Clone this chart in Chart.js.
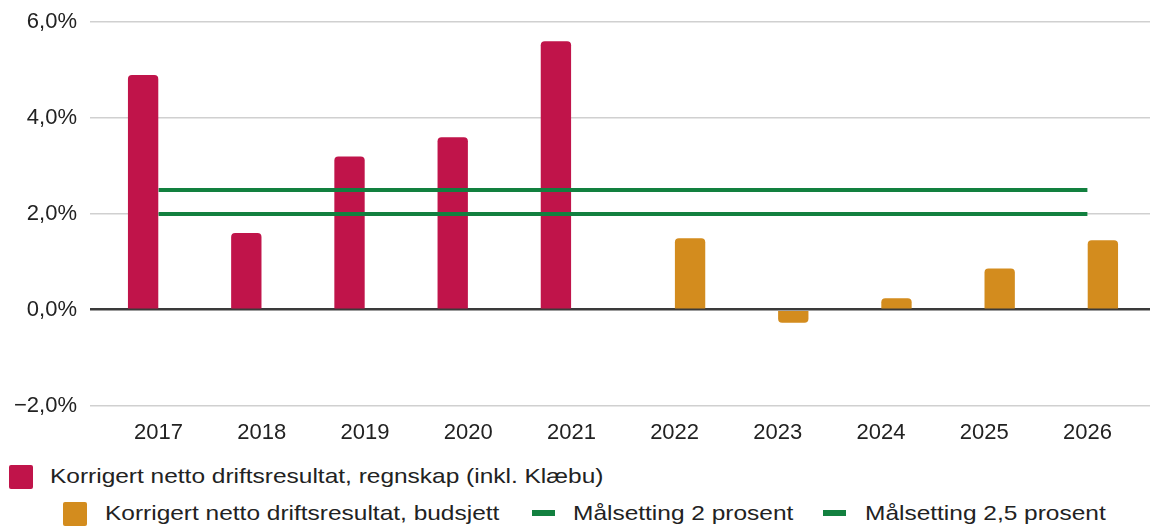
<!DOCTYPE html>
<html>
<head>
<meta charset="utf-8">
<script src="https://cdn.jsdelivr.net/npm/chart.js@4"></script>
<style>
  html, body { margin: 0; padding: 0; background: #fff; }
  body { position: relative; width: 1150px; height: 526px; overflow: hidden; font-family: "Liberation Sans", Arial, sans-serif; }
  #wrap { position: absolute; left: 0; top: -4px; width: 1150px; height: 456px; }
  .mark { position: absolute; }
  .box { width: 24px; height: 24px; border-radius: 2px; }
  .dash { width: 23px; height: 6px; }
  .txt { position: absolute; font-size: 21px; line-height: 24px; color: #222; white-space: nowrap;
         transform: scaleX(1.165); transform-origin: 0 0; }
</style>
</head>
<body>
<div id="wrap"><canvas id="chart"></canvas></div>
<div id="legend"></div>
<script>
// categories and values (percent)
const years = ["2017", "2018", "2019", "2020", "2021", "2022", "2023", "2024", "2025", "2026"];
const regnskap = [4.9, 1.6, 3.2, 3.6, 5.6, null, null, null, null, null];
const budsjett = [null, null, null, null, null, 1.49, -0.27, 0.24, 0.86, 1.45];
const maal2 = [2, 2, 2, 2, 2, 2, 2, 2, 2, 2];
const maal25 = [2.5, 2.5, 2.5, 2.5, 2.5, 2.5, 2.5, 2.5, 2.5, 2.5];
const yTicks = [-2, 0, 2, 4, 6];

const seriesNames = [
  "Korrigert netto driftsresultat, regnskap (inkl. Klæbu)",
  "Korrigert netto driftsresultat, budsjett",
  "Målsetting 2 prosent",
  "Målsetting 2,5 prosent",
];

const RED = "#c0144a";
const ORANGE = "#d38c1e";
const GREEN = "#12803f";

function fmtPct(v) {
  const s = Math.abs(v).toFixed(1).replace(".", ",") + "%";
  return v < 0 ? "\u2212" + s : s;
}

const gridColor = (c) => (c.tick && c.tick.value === 0 ? "#3a3a3a" : "#d0d0d0");
const gridWidth = (c) => (c.tick && c.tick.value === 0 ? 2.5 : 1.5);

const tickFont = { family: "'Liberation Sans', Arial, sans-serif", size: 22 };

new Chart(document.getElementById("chart"), {
  data: {
    labels: years,
    datasets: [
      { type: "line", label: seriesNames[3], data: maal25, borderColor: GREEN, borderWidth: 4, pointRadius: 0, order: 0 },
      { type: "line", label: seriesNames[2], data: maal2, borderColor: GREEN, borderWidth: 4, pointRadius: 0, order: 0 },
      {
        type: "bar", label: seriesNames[0], data: regnskap, backgroundColor: RED,
        borderRadius: 4, borderSkipped: "start", categoryPercentage: 0.6, barPercentage: 0.98, order: 1,
      },
      {
        type: "bar", label: seriesNames[1], data: budsjett, backgroundColor: ORANGE,
        borderRadius: 4, borderSkipped: "start", categoryPercentage: 0.6, barPercentage: 0.98, order: 1,
      },
    ],
  },
  options: {
    responsive: true,
    maintainAspectRatio: false,
    animation: false,
    layout: { padding: { top: 4, left: 1, right: 0, bottom: 0 } },
    plugins: { legend: { display: false }, tooltip: { enabled: false } },
    scales: {
      x: {
        grid: { display: false },
        border: { display: false },
        ticks: { color: "#222", font: tickFont, padding: 6, maxRotation: 0 },
      },
      y: {
        position: "left",
        min: yTicks[0],
        max: yTicks[yTicks.length - 1],
        afterBuildTicks: (s) => { s.ticks = yTicks.map((v) => ({ value: v })); },
        grid: { color: gridColor, lineWidth: gridWidth, tickLength: 17 },
        border: { display: false },
        ticks: { color: "#222", font: tickFont, padding: 13, callback: (v) => fmtPct(v) },
      },
      yRight: {
        position: "right",
        min: yTicks[0],
        max: yTicks[yTicks.length - 1],
        afterBuildTicks: (s) => { s.ticks = yTicks.map((v) => ({ value: v })); },
        grid: { color: gridColor, lineWidth: gridWidth, tickLength: 11, drawOnChartArea: false },
        border: { display: false },
        ticks: { display: false },
      },
    },
  },
});

// legend: marker and text placed like the reference
const legendItems = [
  { name: seriesNames[0], color: RED, kind: "box", mx: 9, my: 465, tx: 50, ty: 464 },
  { name: seriesNames[1], color: ORANGE, kind: "box", mx: 63, my: 502, tx: 105, ty: 501 },
  { name: seriesNames[2], color: GREEN, kind: "dash", mx: 532, my: 510, tx: 573, ty: 501 },
  { name: seriesNames[3], color: GREEN, kind: "dash", mx: 823, my: 510, tx: 865, ty: 501 },
];
document.getElementById("legend").innerHTML = legendItems.map((it) =>
  '<div class="mark ' + it.kind + '" style="left:' + it.mx + "px;top:" + it.my + "px;background:" + it.color + '"></div>' +
  '<div class="txt" style="left:' + it.tx + "px;top:" + it.ty + 'px">' + it.name + "</div>"
).join("");
</script>
</body>
</html>
